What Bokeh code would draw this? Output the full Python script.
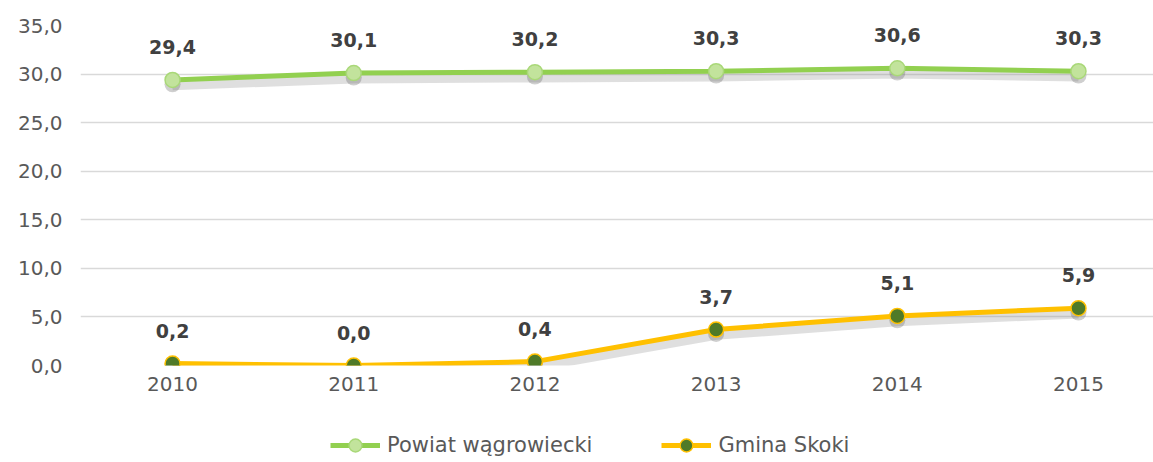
from bokeh.plotting import figure
from bokeh.layouts import column
from bokeh.models import (ColumnDataSource, Range1d, FixedTicker, Legend, LegendItem,
                          CustomJSTickFormatter)
from bokeh.transform import dodge
from bokeh.core.properties import value
from bokeh.embed import file_html
from bokeh.resources import INLINE

years = [2010, 2011, 2012, 2013, 2014, 2015]
powiat = [29.4, 30.1, 30.2, 30.3, 30.6, 30.3]
skoki = [0.2, 0.0, 0.4, 3.7, 5.1, 5.9]
series_names = ["Powiat wągrowiecki", "Gmina Skoki"]
y_ticks = [0, 5, 10, 15, 20, 25, 30, 35]

def fmt(v):
    return f"{v:.1f}".replace(".", ",")

src_p = ColumnDataSource(dict(x=years, y=powiat, lbl=[fmt(v) for v in powiat]))
src_s = ColumnDataSource(dict(x=years, y=skoki, lbl=[fmt(v) for v in skoki]))

FONT = "DejaVu Sans"
GREEN_LINE, GREEN_FILL, GREEN_EDGE = "#92D050", "#C2E39C", "#A9D878"
YEL_LINE, YEL_FILL = "#FFC000", "#4F7A28"

p = figure(width=1153, height=405, output_backend="svg", toolbar_location=None,
           x_range=Range1d(2009.492, 2015.414), y_range=Range1d(0, 35),
           min_border_left=80, min_border_right=0, min_border_top=25, min_border_bottom=40)
p.outline_line_color = None
p.background_fill_color = "white"
p.border_fill_color = "white"

# axes
p.xaxis.ticker = FixedTicker(ticks=years)
p.yaxis.ticker = FixedTicker(ticks=y_ticks)
p.yaxis.formatter = CustomJSTickFormatter(code="return tick.toFixed(1).replace('.', ',');")
for ax in (p.xaxis[0], p.yaxis[0]):
    ax.axis_line_color = None
    ax.major_tick_line_color = None
    ax.minor_tick_line_color = None
    ax.major_label_text_font = FONT
    ax.major_label_text_font_size = "20px"
    ax.major_label_text_color = "#595959"
p.yaxis.major_label_standoff = 12
p.xaxis.major_label_standoff = 5
p.xgrid.grid_line_color = None
p.ygrid.grid_line_color = "#D9D9D9"
p.ygrid.grid_line_width = 1.5

# shadows
for src in (src_p, src_s):
    p.line(x="x", y=dodge("y", -0.6), source=src, line_color="#8c8c8c",
           line_alpha=0.28, line_width=9)
    p.scatter(x="x", y=dodge("y", -0.45), source=src, size=16, fill_color="#606060",
              fill_alpha=0.3, line_color=None)

# series
p.line(x="x", y="y", source=src_p, line_color=GREEN_LINE, line_width=5)
p.scatter(x="x", y="y", source=src_p, size=15, fill_color=GREEN_FILL,
          line_color=GREEN_EDGE, line_width=1.5)
p.line(x="x", y="y", source=src_s, line_color=YEL_LINE, line_width=5)
p.scatter(x="x", y="y", source=src_s, size=15, fill_color=YEL_FILL,
          line_color=YEL_LINE, line_width=1.5)

# data labels
for src in (src_p, src_s):
    p.text(x="x", y="y", text="lbl", source=src, text_align="center",
           text_baseline="bottom", y_offset=-26, text_font=value(FONT),
           text_font_style="bold", text_font_size="19px", text_color="#404040")

# legend strip (its renderers use the series data, which lies outside this strip's range)
lg = figure(width=1153, height=57, output_backend="svg", toolbar_location=None,
            x_range=Range1d(0, 1), y_range=Range1d(0, 1),
            min_border_left=0, min_border_right=0, min_border_top=0, min_border_bottom=0)
lg.axis.visible = False
lg.grid.visible = False
lg.outline_line_color = None
l1 = lg.line(x="x", y="y", source=src_p, line_color=GREEN_LINE, line_width=5)
m1 = lg.scatter(x="x", y="y", source=src_p, size=15, fill_color=GREEN_FILL,
                line_color=GREEN_EDGE, line_width=1.5)
l2 = lg.line(x="x", y="y", source=src_s, line_color=YEL_LINE, line_width=5)
m2 = lg.scatter(x="x", y="y", source=src_s, size=15, fill_color=YEL_FILL,
                line_color=YEL_LINE, line_width=1.5)
legend = Legend(items=[LegendItem(label=series_names[0], renderers=[l1, m1]),
                       LegendItem(label=series_names[1], renderers=[l2, m2])],
                orientation="horizontal", location=(250, 1),
                glyph_width=50, glyph_height=32, label_standoff=7, spacing=69,
                label_text_font=FONT, label_text_font_size="21px",
                label_text_color="#595959", border_line_color=None,
                background_fill_alpha=0, margin=0, padding=0)
lg.add_layout(legend, "center")

open("out.html", "w").write(file_html(column(p, lg, spacing=0), INLINE))
